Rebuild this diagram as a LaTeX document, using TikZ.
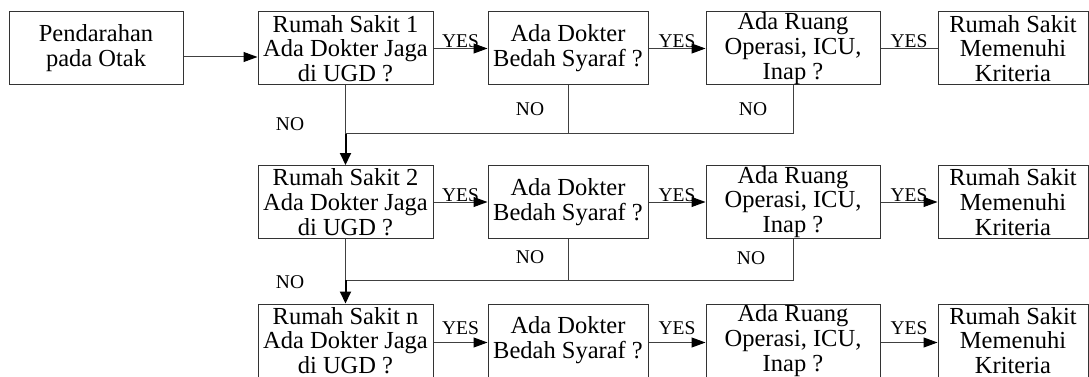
\documentclass[tikz,border=0pt]{standalone}
\usepackage{fontspec}
\setmainfont{Liberation Serif}
\usetikzlibrary{arrows.meta}
\begin{document}
\begin{tikzpicture}[x=1pt,y=-1pt,
  box/.style={draw=black!80,line width=1pt,rectangle,inner sep=0pt,align=center,
    minimum height=73pt,font=\fontsize{24.5}{24.8}\selectfont},
  wA/.style={minimum width=174pt},
  wR/.style={minimum width=175pt},
  wD/.style={minimum width=160pt},
  wU/.style={minimum width=174pt},
  wK/.style={minimum width=150pt},
  link/.style={draw=black!75,line width=1pt},
  arr/.style={link,-{Triangle[length=14pt,width=10pt,color=black]}},
  downarr/.style={draw=black,line width=2pt,-{Triangle[length=12pt,width=11pt]}},
  lbl/.style={font=\fontsize{19.5}{19.5}\selectfont,inner sep=0pt}
]
\useasboundingbox (0,0) rectangle (1089,377);

% row 1
\node[box,wA] (pend) at (96,48.5) {Pendarahan\\pada Otak};
\node[box,wR] (rs1) at (345.5,48.5) {Rumah Sakit 1\\Ada Dokter Jaga\\di UGD ?};
\node[box,wD] (dok1) at (568,48.5) {Ada Dokter\\Bedah Syaraf ?};
\node[box,wU] (ru1) at (793,48.5) {Ada Ruang\\Operasi, ICU,\\Inap ?};
\node[box,wK] (kr1) at (1013,48.5) {Rumah Sakit\\Memenuhi\\Kriteria};

% row 2
\node[box,wR] (rs2) at (345.5,202) {Rumah Sakit 2\\Ada Dokter Jaga\\di UGD ?};
\node[box,wD] (dok2) at (568,202) {Ada Dokter\\Bedah Syaraf ?};
\node[box,wU] (ru2) at (793,202) {Ada Ruang\\Operasi, ICU,\\Inap ?};
\node[box,wK] (kr2) at (1013,202) {Rumah Sakit\\Memenuhi\\Kriteria};

% row 3 (its lower edge runs past the page)
\node[box,wR] (rs3) at (345.5,340.5) {Rumah Sakit n\\Ada Dokter Jaga\\di UGD ?};
\node[box,wD] (dok3) at (568,340.5) {Ada Dokter\\Bedah Syaraf ?};
\node[box,wU] (ru3) at (793,340.5) {Ada Ruang\\Operasi, ICU,\\Inap ?};
\node[box,wK] (kr3) at (1013,340.5) {Rumah Sakit\\Memenuhi\\Kriteria};

% start
\draw[arr] ([yshift=-8.5pt]pend.east) -- ([yshift=-8.5pt]pend.east -| rs1.west);

% YES chains
\draw[arr] (rs1) -- node[lbl,above] {YES} (dok1);
\draw[arr] (dok1) -- node[lbl,above] {YES} (ru1);
\draw[link] (ru1) -- node[lbl,above] {YES} (kr1);

\draw[arr] (rs2) -- node[lbl,above] {YES} (dok2);
\draw[arr] (dok2) -- node[lbl,above] {YES} (ru2);
\draw[arr] (ru2) -- node[lbl,above] {YES} (kr2);

\draw[arr] ([yshift=-2pt]rs3.east) -- node[lbl,above=7pt] {YES} ([yshift=-2pt]dok3.west);
\draw[arr] ([yshift=-2pt]dok3.east) -- node[lbl,above=7pt] {YES} ([yshift=-2pt]ru3.west);
\draw[arr] ([yshift=-2pt]ru3.east) -- node[lbl,above=7pt] {YES} ([yshift=-2pt]kr3.west);

% NO branches, row 1
\coordinate (j1) at (rs1.south |- 0,134);
\draw[link] (rs1.south) -- (j1);
\draw[link] (ru1.south) |- (j1);
\draw[link] (dok1.south) -- (dok1.south |- j1);
\draw[downarr] (j1) -- (rs2.north);
\node[lbl] (no1) at (290,124) {NO};
\node[lbl] (no2) at (530,109) {NO};
\node[lbl] (no3) at (753,109) {NO};

% NO branches, row 2
\coordinate (j2) at (rs2.south |- 0,280);
\draw[link] (rs2.south) -- (j2);
\draw[link] (ru2.south) |- (j2);
\draw[link] (dok2.south) -- (dok2.south |- j2);
\draw[downarr] (j2) -- (rs3.north);
\node[lbl] (no4) at (290,282) {NO};
\node[lbl] (no5) at (530,257) {NO};
\node[lbl] (no6) at (751,258) {NO};
\end{tikzpicture}
\end{document}
